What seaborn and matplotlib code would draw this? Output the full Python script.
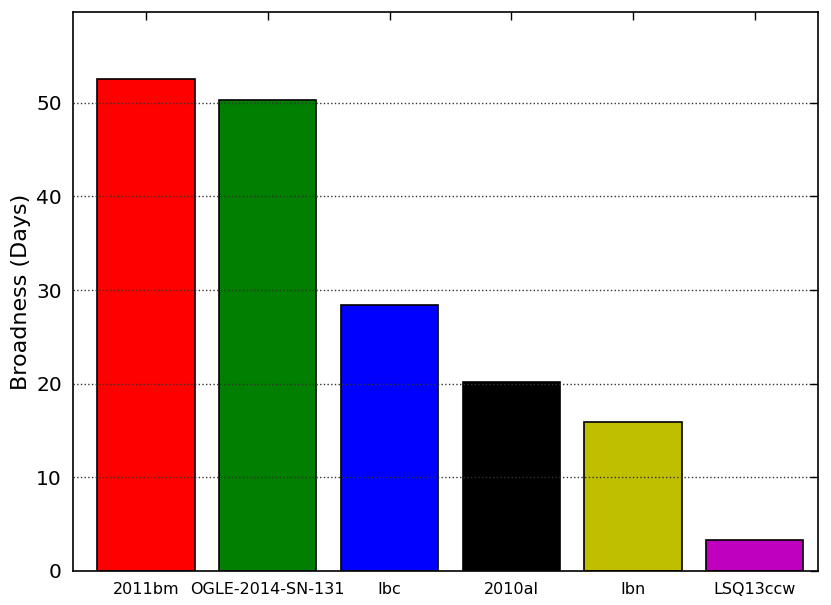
import numpy as np
import pandas as pd
import matplotlib
matplotlib.use("Agg")
import matplotlib.pyplot as plt
import seaborn as sns

names = ["2011bm", "OGLE-2014-SN-131", "Ibc", "2010al", "Ibn", "LSQ13ccw"]
broadness = [52.5, 50.3, 28.4, 20.2, 15.9, 3.3]
colors = ["#ff0000", "#007f00", "#0000ff", "#000000", "#bfbf00", "#bf00bf"]

df = pd.DataFrame({"name": names, "broadness": broadness})

sns.set_style("white")
plt.rcParams["font.family"] = ["DejaVu Sans"]
plt.rcParams["text.color"] = "black"
plt.rcParams["axes.labelcolor"] = "black"
plt.rcParams["xtick.color"] = "black"
plt.rcParams["ytick.color"] = "black"

fig = plt.figure(figsize=(8.31, 6.05), dpi=100)
ax = fig.add_axes([73/831, 1-571/605, (818-73)/831, (571-12)/605])

sns.barplot(data=df, x="name", y="broadness", hue="name", palette=colors,
            legend=False, width=0.8, edgecolor="black", linewidth=1.2,
            saturation=1, ax=ax)

ax.set_xlim(-0.6, 5.52)
ax.set_ylim(0, 59.7)
ax.set_yticks([0, 10, 20, 30, 40, 50])
ax.set_xlabel("")
ax.set_ylabel("Broadness (Days)", fontsize=16)
ax.yaxis.grid(True, linestyle=":", color="#333333", linewidth=1)
ax.set_axisbelow(False)
ax.tick_params(axis="both", direction="in", top=True, right=True, length=6, width=1)
ax.tick_params(axis="y", labelsize=14.5, pad=8)
ax.tick_params(axis="x", labelsize=11.5, pad=8)
for s in ax.spines.values():
    s.set_visible(True)
    s.set_linewidth(1.2)
    s.set_color("black")

fig.savefig("out.png", dpi=100)
